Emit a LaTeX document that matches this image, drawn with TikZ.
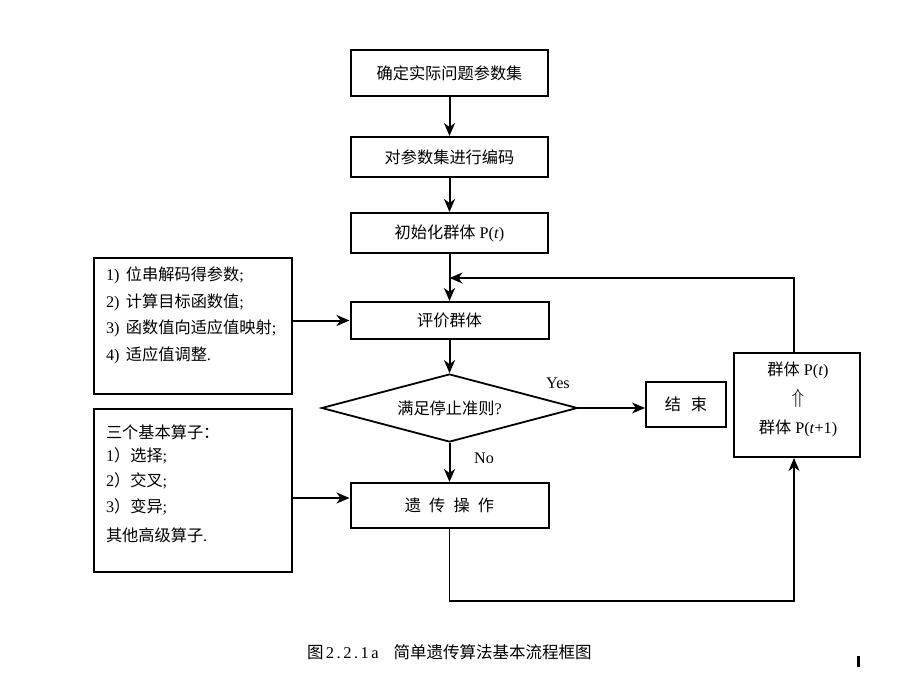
\documentclass[tikz,border=0pt]{standalone}
\usepackage{fontspec}
\setmainfont{Liberation Serif}
\newfontfamily\cjk{Noto Sans CJK SC}
\newfontfamily\capnum{Liberation Serif}[LetterSpace=15]
\usetikzlibrary{arrows.meta,shapes.geometric}
\begin{document}
\begin{tikzpicture}[x=1pt,y=-1pt,line width=2pt,
  box/.style={draw,rectangle,inner sep=0pt,line width=2pt,font=\fontsize{16.2}{18}\selectfont},
  arr/.style={-{Stealth[length=13pt,width=11pt,inset=4pt]},line width=2pt},
  txt/.style={inner sep=0pt,anchor=west,font=\fontsize{16.2}{18}\selectfont},
  ctxt/.style={inner sep=0pt,font=\fontsize{16.2}{18}\selectfont}]
\useasboundingbox[fill=white] (0,0) rectangle (920,690);
% main column
\node[box,minimum width=197pt,minimum height=46pt] (b1) at (449.5,73.5) {\cjk 确定实际问题参数集};
\node[box,minimum width=197pt,minimum height=40pt] (b2) at (449.5,157) {\cjk 对参数集进行编码};
\node[box,minimum width=197pt,minimum height=40pt] (b3) at (449.5,233) {{\cjk 初始化群体} P(\textit{t})};
\node[box,minimum width=198pt,minimum height=37pt] (b4) at (449.5,320.5) {\cjk 评价群体};
\node[draw,diamond,aspect=3.76,minimum width=256pt,minimum height=68pt,inner sep=0pt,line width=1.8pt,font=\fontsize{16.2}{18}\selectfont] (d) at (449.5,408) {{\cjk 满足停止准则}?};
\node[box,minimum width=198pt,minimum height=45pt] (b5) at (449.5,505.5) {\cjk 遗\hspace{0.5em}传\hspace{0.5em}操\hspace{0.5em}作};
\node[box,minimum width=80pt,minimum height=45pt] (end) at (686,404.5) {\cjk 结\hspace{0.6em}束};
% right box
\node[box,minimum width=126pt,minimum height=104pt] (R) at (797,405) {};
\node[ctxt] (r1) at (798,370) {{\cjk 群体} P(\textit{t})};
\node[ctxt,font=\fontsize{22}{22}\selectfont] (r2) at (798,398) {$\Uparrow$};
\node[ctxt] (r3) at (798,428) {{\cjk 群体} P(\textit{t}+1)};
% left boxes
\node[box,minimum width=198pt,minimum height=136pt] (L1) at (193,326) {};
\node[txt] (l11) at (105,275) {1)\hspace{0.4em}{\cjk 位串解码得参数};};
\node[txt] (l12) at (105,302) {2)\hspace{0.4em}{\cjk 计算目标函数值};};
\node[txt] (l13) at (105,328) {3)\hspace{0.4em}{\cjk 函数值向适应值映射};};
\node[txt] (l14) at (105,355) {4)\hspace{0.4em}{\cjk 适应值调整}.};
\node[box,minimum width=198pt,minimum height=163pt] (L2) at (193,490.5) {};
\node[txt] (l21) at (105,432) {\cjk 三个基本算子：};
\node[txt] (l22) at (105,456) {1{\cjk ）选择};};
\node[txt] (l23) at (105,481) {2{\cjk ）交叉};};
\node[txt] (l24) at (105,507) {3{\cjk ）变异};};
\node[txt] (l25) at (105,535) {{\cjk 其他高级算子}.};
% labels
\node[ctxt] (yes) at (558,383) {Yes};
\node[ctxt] (no) at (484,458) {No};
% connectors
\draw[arr] (b1) -- (b2);
\draw[arr] (b2) -- (b3);
\draw[arr] (b3) -- (b4);
\draw[arr] (b4) -- (d);
\draw[arr] (d) -- (b5);
\draw[arr] (d.east) -- (end.west |- d.east);
\draw[arr] (L1.east |- b4.west) -- (b4.west);
\draw[arr] (L2.east |- 0,498) -- (b5.west |- 0,498);
\coordinate (j) at (449.5,278);
\draw[arr,line width=1.5pt] ([xshift=-3pt]R.north) |- (j);
\coordinate (k) at (449.5,601);
\draw[arr,line width=1.5pt] (b5.south) -- (k) -| ([xshift=-3pt]R.south);
% caption
\node[anchor=west,inner sep=0pt,font=\fontsize{16.5}{18}\selectfont] (cap) at (306,652) {{\cjk 图}\hspace{0.15em}{\capnum 2.2.1a}\hspace{0.9em}{\cjk 简单遗传算法基本流程框图}};
\fill (857,656) rectangle (860,667);
\end{tikzpicture}
\end{document}
